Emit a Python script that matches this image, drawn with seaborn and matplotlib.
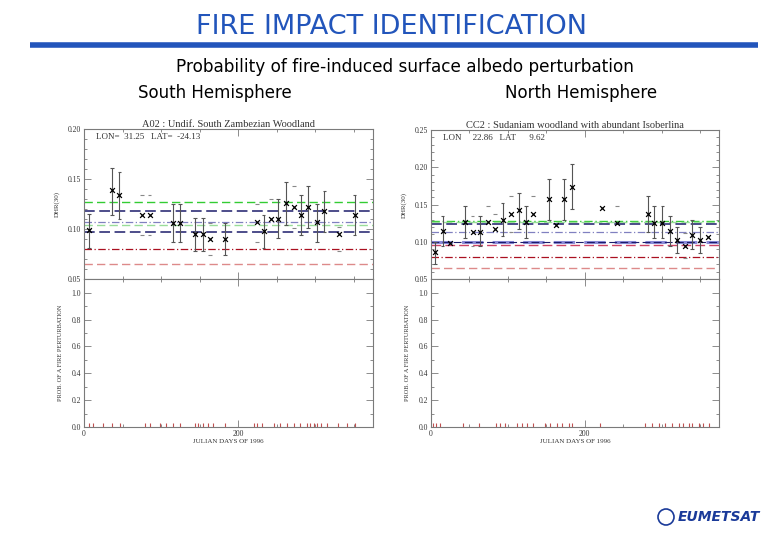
import numpy as np
import matplotlib
matplotlib.use("Agg")
import matplotlib.pyplot as plt
import seaborn as sns
from matplotlib.ticker import MultipleLocator, FixedLocator
from matplotlib.patches import Ellipse

# ---- South hemisphere site (A02) ----
sh_day = [7, 36, 46, 75, 85, 115, 125, 144, 154, 163, 183, 224, 233, 243, 252,
          262, 272, 282, 291, 302, 312, 331, 351]
sh_dhr = [0.099, 0.139, 0.134, 0.114, 0.114, 0.106, 0.106, 0.095, 0.095, 0.090, 0.090,
          0.107, 0.098, 0.110, 0.110, 0.126, 0.122, 0.114, 0.122, 0.107, 0.118, 0.095, 0.114]
sh_hi = [0.115, 0.161, 0.157, 0.134, 0.134, 0.125, 0.125, 0.111, 0.111, 0.106, 0.106,
         0.125, 0.114, 0.130, 0.130, 0.147, 0.143, 0.134, 0.143, 0.125, 0.138, 0.102, 0.134]
sh_lo = [0.081, 0.114, 0.110, 0.094, 0.094, 0.087, 0.087, 0.078, 0.078, 0.074, 0.074,
         0.087, 0.081, np.nan, 0.091, 0.104, 0.101, 0.094, 0.101, 0.087, 0.097, 0.078, 0.094]
sh_bar = [1, 1, 1, 0, 0, 1, 1, 1, 1, 0, 1, 0, 1, 0, 1, 1, 0, 1, 1, 1, 1, 0, 1]
sh_levels = [0.127, 0.118, 0.1076, 0.1043, 0.097, 0.080, 0.065]
sh_rug = [6, 12, 25, 36, 47, 79, 86, 99, 107, 116, 125, 144, 148, 155, 161, 168, 183,
          220, 224, 231, 246, 254, 263, 272, 280, 289, 293, 298, 302, 308, 315, 330, 341, 352]

# ---- North hemisphere site (CC2) ----
nh_day = [5, 15, 25, 44, 54, 64, 74, 83, 93, 104, 114, 123, 133, 153, 163, 173, 183,
          222, 242, 282, 290, 301, 311, 320, 330, 340, 350, 360]
nh_dhr = [0.087, 0.115, 0.098, 0.127, 0.114, 0.114, 0.127, 0.118, 0.129, 0.138, 0.143,
          0.127, 0.138, 0.158, 0.123, 0.158, 0.174, 0.146, 0.126, 0.138, 0.126, 0.126,
          0.115, 0.103, 0.095, 0.109, 0.103, 0.107]
nh_hi = [0.100, 0.135, np.nan, 0.148, 0.135, 0.135, 0.148, 0.138, 0.152, 0.161, 0.166,
         0.148, 0.161, 0.184, np.nan, 0.184, 0.204, np.nan, 0.148, 0.162, 0.148, 0.148,
         0.135, 0.120, 0.112, 0.129, 0.120, np.nan]
nh_lo = [0.071, 0.094, np.nan, 0.105, 0.095, 0.094, np.nan, np.nan, 0.108, 0.114, 0.118,
         0.105, np.nan, 0.130, np.nan, 0.130, 0.144, np.nan, np.nan, 0.114, 0.105, 0.105,
         0.094, 0.085, 0.079, 0.091, 0.085, np.nan]
nh_bar = [1, 1, 0, 1, 0, 1, 0, 0, 1, 0, 1, 1, 0, 1, 0, 1, 1, 0, 0, 1, 1, 1, 1, 1, 0, 1, 1, 0]
nh_levels = [0.128, 0.127, 0.124, 0.113, 0.1005, 0.100, 0.096, 0.0795, 0.0647]
nh_rug = [3, 7, 12, 42, 62, 85, 90, 96, 112, 118, 125, 133, 148, 155, 164, 170, 179, 183,
          220, 278, 287, 296, 304, 313, 322, 328, 335, 339, 348, 354, 361]

sh_title = "A02 : Undif. South Zambezian Woodland"
nh_title = "CC2 : Sudaniam woodland with abundant Isoberlina"
sh_pos = "LON=  31.25   LAT=  -24.13"
nh_pos = "LON     22.86   LAT      9.62"

sns.set_style("ticks")
plt.rcParams['font.family'] = ['DejaVu Sans']

FRAME = "#7a7a7a"
TXT = "#333333"
tick_font = dict(family="Liberation Serif", size=5.5, color=TXT)

# style of the reference lines (colour, dash pattern, width)
sh_styles = [("#33cc33", (0, (6, 3)), 1.0),
             ("#1c1c6b", (0, (7, 3)), 1.1),
             ("#8080c0", (0, (6, 2, 1, 2)), 0.9),
             ("#99dd99", (0, (6, 3)), 1.0),
             ("#1c1c6b", (0, (7, 3)), 1.1),
             ("#aa1020", (0, (6, 2, 1, 2)), 0.9),
             ("#dd8a8a", (0, (6, 3)), 1.0)]
nh_styles = [("#33cc33", (0, (6, 2, 1, 2)), 1.0),
             ("#99dd99", (0, (6, 3)), 1.0),
             ("#1c1c6b", (0, (7, 3)), 1.1),
             ("#8080c0", (0, (6, 2, 1, 2)), 0.9),
             ("#8a8ad8", (0, (7, 3)), 2.2),
             ("#1c1c6b", (0, (7, 3)), 0.8),
             ("#cc4466", (0, (7, 3)), 1.0),
             ("#aa1020", (0, (6, 2, 1, 2)), 0.9),
             ("#dd8a8a", (0, (6, 3)), 1.0)]


def style_axes(ax):
    for s in ax.spines.values():
        s.set_color(FRAME)
        s.set_linewidth(0.8)
    ax.tick_params(which="both", direction="in", top=True, right=True,
                   color=FRAME, width=0.6, pad=2)
    ax.tick_params(which="major", length=5)
    ax.tick_params(which="minor", length=2.5)
    for lab in ax.get_xticklabels() + ax.get_yticklabels():
        lab.set_fontfamily(tick_font["family"])
        lab.set_fontsize(tick_font["size"])
        lab.set_color(TXT)


def draw_site(ax_top, ax_bot, day, dhr, hi, lo, bar, levels, styles, rug, ymax, title, pos):
    for lev, (c, ls, lw) in zip(levels, styles):
        ax_top.axhline(lev, color=c, linestyle=ls, linewidth=lw, zorder=1)
    day = np.array(day, float)
    hi = np.array(hi, float)
    lo = np.array(lo, float)
    for d, h, l, b in zip(day, hi, lo, bar):
        col = "#555555" if b else "#888888"
        if b and not np.isnan(h) and not np.isnan(l):
            ax_top.vlines(d, l, h, color=col, linewidth=0.8, zorder=2)
        for v in (h, l):
            if not np.isnan(v):
                ax_top.hlines(v, d - 2.5, d + 2.5, color=col, linewidth=0.8, zorder=2)
    sns.scatterplot(x=day, y=dhr, marker="x", color="black", s=12, linewidth=0.9,
                    ax=ax_top, zorder=3, legend=False)
    ax_top.set_xlim(0, 375)
    ax_top.set_ylim(0.05, ymax)
    ax_top.yaxis.set_major_locator(MultipleLocator(0.05))
    ax_top.yaxis.set_minor_locator(MultipleLocator(0.01))
    ax_top.yaxis.set_major_formatter(matplotlib.ticker.FormatStrFormatter("%.2f"))
    ax_top.xaxis.set_major_locator(FixedLocator([0, 200]))
    ax_top.xaxis.set_minor_locator(MultipleLocator(50))
    ax_top.set_xticklabels([])
    ax_top.set_xlabel("")
    ax_top.set_ylabel("DHR(30)", fontsize=5, family="Liberation Serif", color=TXT, labelpad=6)
    ax_top.set_title(title, fontsize=7.5, family="Liberation Serif", color=TXT, pad=1.5)
    ax_top.text(0.04, 0.975, pos, transform=ax_top.transAxes, ha="left", va="top",
                fontsize=6.5, family="Liberation Serif", color=TXT)
    style_axes(ax_top)

    ax_bot.vlines(rug, 0, 0.03, color="#c05050", linewidth=0.8)
    ax_bot.set_xlim(0, 375)
    ax_bot.set_ylim(0, 1.1)
    ax_bot.yaxis.set_major_locator(FixedLocator([0, 0.2, 0.4, 0.6, 0.8, 1.0]))
    ax_bot.yaxis.set_minor_locator(MultipleLocator(0.1))
    ax_bot.yaxis.set_major_formatter(matplotlib.ticker.FormatStrFormatter("%.1f"))
    ax_bot.xaxis.set_major_locator(FixedLocator([0, 200]))
    ax_bot.xaxis.set_minor_locator(MultipleLocator(50))
    ax_bot.set_xticklabels(["0", "200"])
    ax_bot.set_xlabel("JULIAN DAYS OF 1996", fontsize=5, family="Liberation Serif",
                      color=TXT, labelpad=1)
    ax_bot.set_ylabel("PROB. OF A FIRE PERTURBATION", fontsize=4.5,
                      family="Liberation Serif", color=TXT, labelpad=6)
    style_axes(ax_bot)


fig = plt.figure(figsize=(7.8, 5.4), dpi=100)
ax_sh_top = fig.add_axes([0.1077, 0.4828, 0.3705, 0.2778])
ax_sh_bot = fig.add_axes([0.1077, 0.2093, 0.3705, 0.2735])
ax_nh_top = fig.add_axes([0.5526, 0.4828, 0.3696, 0.2765])
ax_nh_bot = fig.add_axes([0.5526, 0.2093, 0.3696, 0.2735])

draw_site(ax_sh_top, ax_sh_bot, sh_day, sh_dhr, sh_hi, sh_lo, sh_bar, sh_levels,
          sh_styles, sh_rug, 0.20, sh_title, sh_pos)
draw_site(ax_nh_top, ax_nh_bot, nh_day, nh_dhr, nh_hi, nh_lo, nh_bar, nh_levels,
          nh_styles, nh_rug, 0.25, nh_title, nh_pos)

# slide header
BLUE = "#2255bb"
fig.text(392 / 780, 1 - 27 / 540, "FIRE IMPACT IDENTIFICATION", ha="center", va="center",
         fontsize=19.5, color=BLUE)
fig.add_artist(plt.Line2D([30 / 780, 758 / 780], [1 - 44.5 / 540, 1 - 44.5 / 540],
                          color=BLUE, linewidth=4, solid_capstyle="butt"))
fig.text(405 / 780, 1 - 67 / 540, "Probability of fire-induced surface albedo perturbation",
         ha="center", va="center", fontsize=12.2, color="black")
fig.text(215 / 780, 1 - 93 / 540, "South Hemisphere", ha="center", va="center",
         fontsize=12, color="black")
fig.text(581 / 780, 1 - 93 / 540, "North Hemisphere", ha="center", va="center",
         fontsize=12, color="black")

# logo
fig.add_artist(Ellipse((666 / 780, 1 - 517 / 540), 16 / 780, 16 / 540, fill=False,
                       edgecolor="#1a3a99", linewidth=1.2, transform=fig.transFigure))
fig.text(678 / 780, 1 - 517 / 540, "EUMETSAT", ha="left", va="center", fontsize=10,
         fontweight="bold", fontstyle="italic", color="#1a3a99")

fig.savefig("out.png", dpi=100)
